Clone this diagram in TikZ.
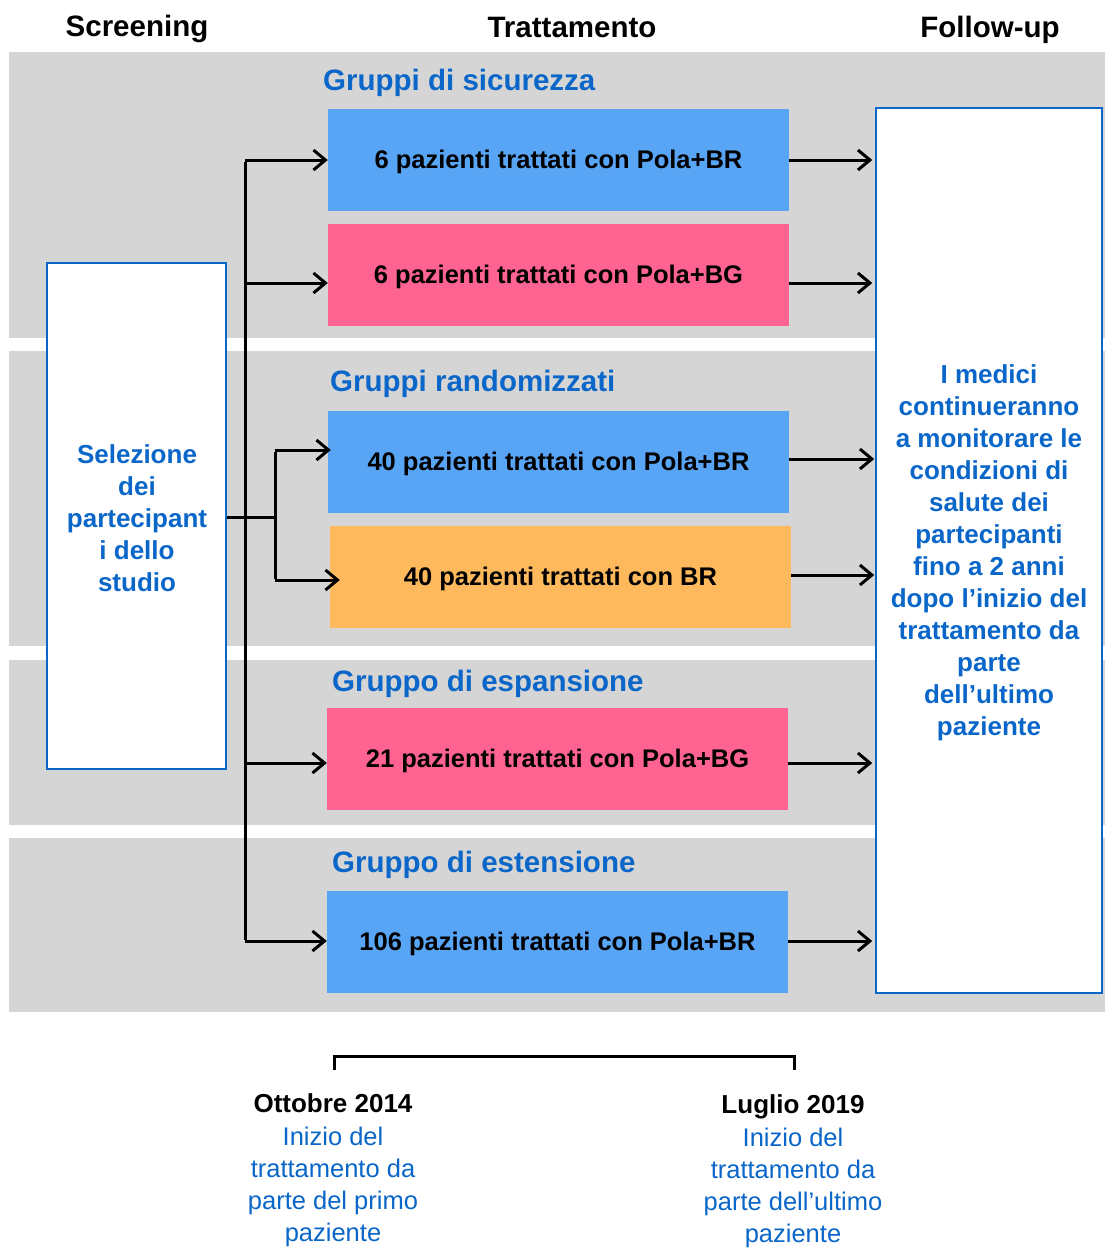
\documentclass[tikz,border=0pt]{standalone}
\usepackage{fontspec}
\setmainfont{Liberation Sans}
\usetikzlibrary{arrows.meta}
\definecolor{bandgray}{HTML}{D5D5D5}
\definecolor{titleblue}{HTML}{0A66C8}
\definecolor{boxblue}{HTML}{58A4F5}
\definecolor{boxpink}{HTML}{FF6391}
\definecolor{boxorange}{HTML}{FDB95B}
\tikzset{
  band/.style={fill=bandgray, draw=none},
  header/.style={font=\bfseries\fontsize{29.5}{36}\selectfont, inner sep=0pt, anchor=base},
  grouptitle/.style={font=\bfseries\fontsize{29.5}{36}\selectfont, text=titleblue, anchor=base west, inner sep=0pt},
  armbox/.style={minimum width=461pt, minimum height=102pt, inner sep=0pt, draw=none,
    text height=17pt, text depth=0pt, font=\bfseries\fontsize{25.5}{30}\selectfont},
  sidebox/.style={fill=white, draw=titleblue, line width=1.5pt, inner sep=0pt},
  sidetext/.style={font=\bfseries\fontsize{26}{32}\selectfont, text=titleblue, align=center, inner sep=0pt},
  datetitle/.style={font=\bfseries\fontsize{26}{32}\selectfont, inner sep=0pt, anchor=base},
  datetext/.style={font=\fontsize{25.5}{32}\selectfont, text=titleblue, align=center, inner sep=0pt},
  conn/.style={line width=3pt, black},
  arr/.style={conn, -{Straight Barb[length=12pt,width=20pt,line width=3pt]}},
}
\begin{document}
\begin{tikzpicture}[x=1pt,y=-1pt]
\useasboundingbox (0,0) rectangle (1105,1248);
\fill[white] (0,0) rectangle (1105,1248);
% bands
\fill[band] (9,52) rectangle (1105,338);
\fill[band] (9,351) rectangle (1105,646);
\fill[band] (9,660) rectangle (1105,825);
\fill[band] (9,838) rectangle (1105,1012);
% headers
\node[header] (hs) at (137,36) {Screening};
\node[header] (ht) at (572,37) {Trattamento};
\node[header] (hf) at (990,37) {Follow-up};
% group titles
\node[grouptitle] (g1) at (323,90) {Gruppi di sicurezza};
\node[grouptitle] (g2) at (330,391) {Gruppi randomizzati};
\node[grouptitle] (g3) at (332,691) {Gruppo di espansione};
\node[grouptitle] (g4) at (332,872) {Gruppo di estensione};
% side boxes
\node[sidebox, minimum width=179pt, minimum height=506pt] (sel) at (136.5,516) {};
\node[sidetext] (selt) at (137,518) {Selezione\\dei\\partecipant\\i dello\\studio};
\node[sidebox, minimum width=226pt, minimum height=885pt] (fu) at (989,550.5) {};
\node[sidetext] (fut) at (989,553) {I medici\\continueranno\\a monitorare le\\condizioni di\\salute dei\\partecipanti\\fino a 2 anni\\dopo l’inizio del\\trattamento da\\parte\\dell’ultimo\\paziente};
% arm boxes
\node[armbox, fill=boxblue] (b1) at (558.5,159.5) {6 pazienti trattati con Pola+BR};
\node[armbox, fill=boxpink] (b2) at (558.5,274.5) {6 pazienti trattati con Pola+BG};
\node[armbox, fill=boxblue] (b3) at (558.5,462) {40 pazienti trattati con Pola+BR};
\node[armbox, fill=boxorange] (b4) at (560.5,577) {40 pazienti trattati con BR};
\node[armbox, fill=boxpink] (b5) at (557.5,759) {21 pazienti trattati con Pola+BG};
\node[armbox, fill=boxblue] (b6) at (557.5,942) {106 pazienti trattati con Pola+BR};
% trunk
\coordinate (j1) at (245,160);
\coordinate (j2) at (245,283);
\coordinate (j5) at (245,763);
\coordinate (j6) at (245,941);
\draw[conn] ([yshift=-1.5pt]j1) -- ([yshift=1.5pt]j6);
\draw[arr] (j1) -- (j1 -| b1.west);
\draw[arr] (j2) -- (j2 -| b2.west);
\draw[arr] (j5) -- (j5 -| b5.west);
\draw[arr] (j6) -- (j6 -| b6.west);
% fork for randomized
\coordinate (fork) at (275,517);
\coordinate (f3) at (275,450);
\coordinate (f4) at (275,580);
\draw[conn] (sel.east |- fork) -- (fork);
\draw[conn] ([yshift=-1.5pt]f3) -- ([yshift=1.5pt]f4);
\draw[arr] (f3) -- ([xshift=3pt]f3 -| b3.west);
\draw[arr] (f4) -- ([xshift=10pt]f4 -| b4.west);
% outgoing arrows
\coordinate (o1) at (789,160);
\coordinate (o2) at (789,283);
\coordinate (o3) at (789,459);
\coordinate (o4) at (791,575);
\coordinate (o5) at (788,763);
\coordinate (o6) at (788,941);
\draw[arr] (o1) -- ([xshift=-3pt]o1 -| fu.west);
\draw[arr] (o2) -- ([xshift=-3pt]o2 -| fu.west);
\draw[arr] (o3) -- ([xshift=-1pt]o3 -| fu.west);
\draw[arr] (o4) -- ([xshift=-1pt]o4 -| fu.west);
\draw[arr] (o5) -- ([xshift=-3pt]o5 -| fu.west);
\draw[arr] (o6) -- ([xshift=-3pt]o6 -| fu.west);
% timeline bracket
\coordinate (tl1) at (334,1070);
\coordinate (tl2) at (334,1056);
\coordinate (tl3) at (794,1056);
\coordinate (tl4) at (794,1070);
\draw[conn, line join=miter] (tl1) -- (tl2) -- (tl3) -- (tl4);
% dates
\node[datetitle] (d1) at (333,1112) {Ottobre 2014};
\node[datetext] (d1t) at (333,1187) {Inizio del\\trattamento da\\parte del primo\\paziente};
\node[datetitle] (d2) at (793,1113) {Luglio 2019};
\node[datetext] (d2t) at (793,1188) {Inizio del\\trattamento da\\parte dell’ultimo\\paziente};
\end{tikzpicture}
\end{document}
